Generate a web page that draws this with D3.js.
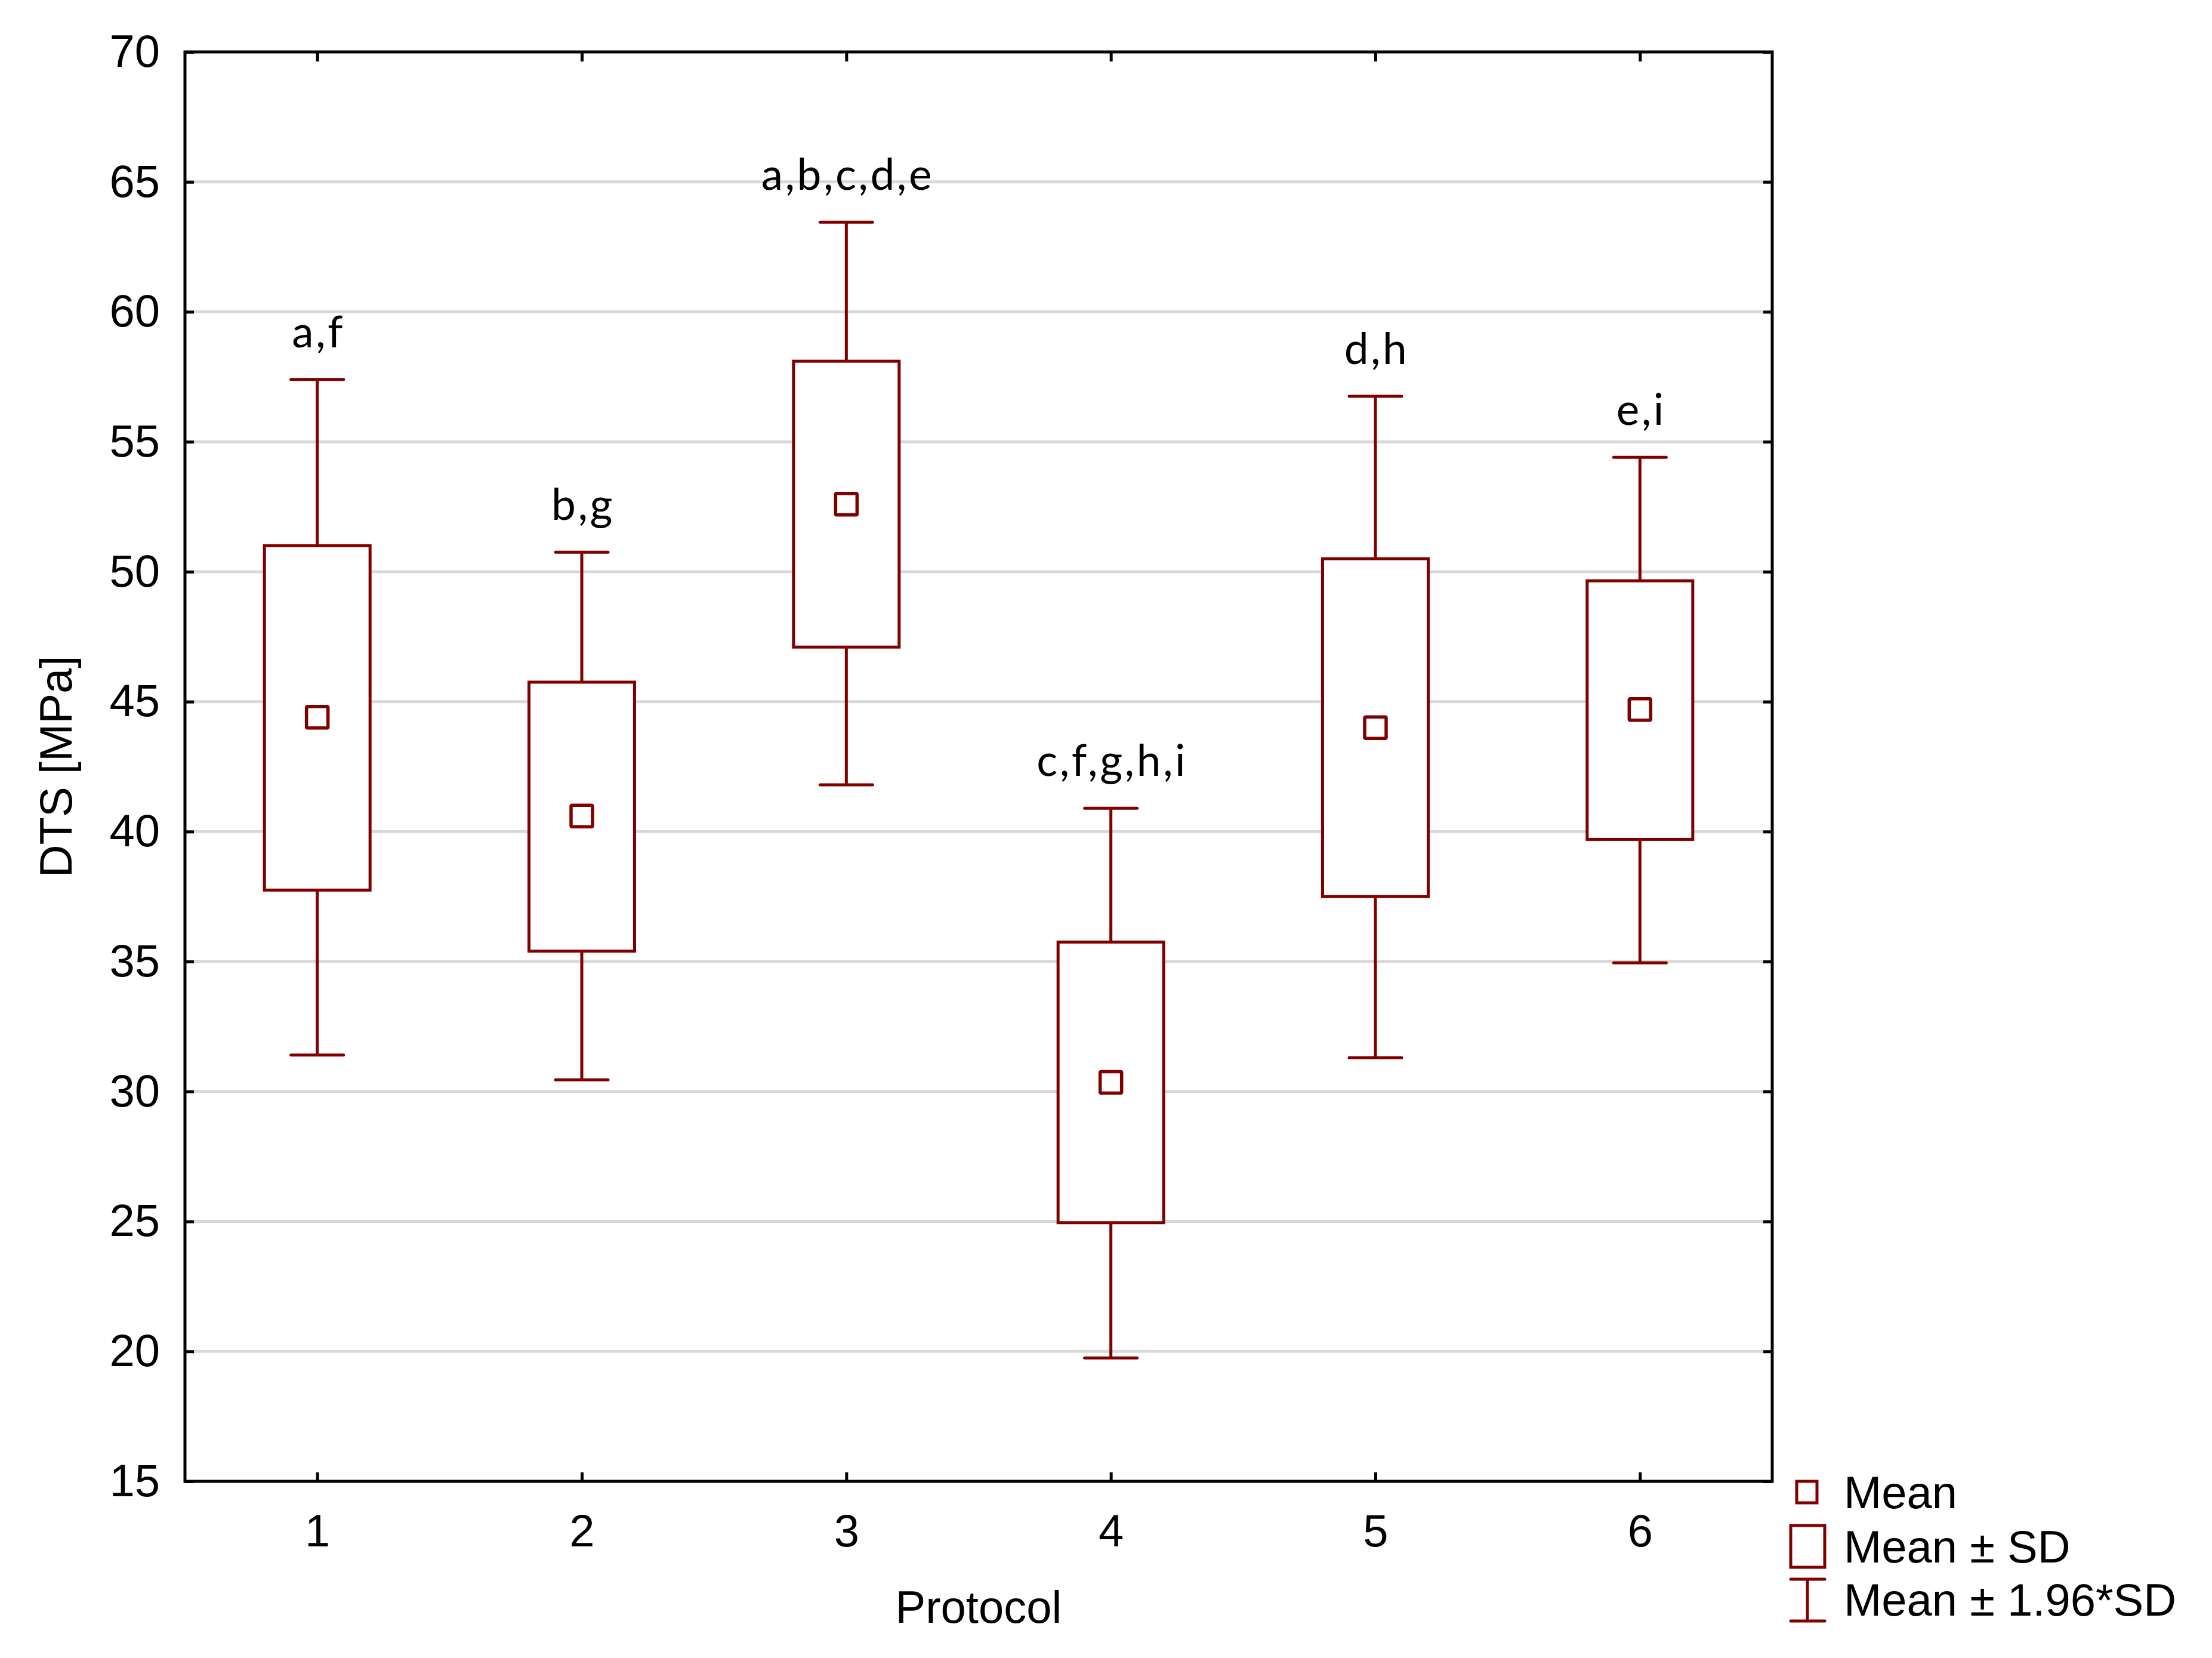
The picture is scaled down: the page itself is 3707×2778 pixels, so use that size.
<!DOCTYPE html>
<html>
<head>
<meta charset="utf-8">
<script src="https://cdn.jsdelivr.net/npm/d3@7"></script>
<style>
  body { margin: 0; background: #fff; }
  text { font-family: "Liberation Sans", Arial, sans-serif; fill: #000; }
  .sig { font-family: Lato, "Open Sans", sans-serif; }
</style>
</head>
<body>
<div id="chart"></div>
<script>
// values
let protocols = ["1", "2", "3", "4", "5", "6"];
let means   = [44.4, 40.6, 52.6, 30.35, 44.0, 44.7];
let sdLow   = [37.75, 35.4, 47.1, 24.95, 37.5, 39.7];
let sdHigh  = [51.0, 45.75, 58.1, 35.75, 50.5, 49.65];
let ciLow   = [31.4, 30.45, 41.8, 19.75, 31.3, 34.95];
let ciHigh  = [57.4, 50.75, 63.45, 40.9, 56.75, 54.4];
let sigLabels = ["a,f", "b,g", "a,b,c,d,e", "c,f,g,h,i", "d,h", "e,i"];
let yTicks = [15, 20, 25, 30, 35, 40, 45, 50, 55, 60, 65, 70];
let legendLabels = ["Mean", "Mean \u00b1 SD", "Mean \u00b1 1.96*SD"];

let margin = {top: 87, right: 737, left: 310, bottom: 296};
let width = 3707 - margin.left - margin.right;
let height = 2778 - margin.top - margin.bottom;
let red = "#800000";

let svg = d3.select("#chart")
    .append("svg")
    .attr("width", 3707)
    .attr("height", 2778);

let chart = svg.append("g")
    .attr("transform", "translate(" + margin.left + ", " + margin.top + ")");

let xScale = d3.scalePoint().domain(protocols).range([0, width]).padding(0.5);
let yScale = d3.scaleLinear().domain([15, 70]).range([height, 0]);

let data = protocols.map((p, i) => ({
    p: p, mean: means[i], lo: sdLow[i], hi: sdHigh[i],
    wlo: ciLow[i], whi: ciHigh[i], label: sigLabels[i]
}));

// grid
chart.append("g")
    .selectAll("line")
    .data(yTicks.filter(d => d > 15 && d < 70))
    .enter()
    .append("line")
    .attr("x1", 0)
    .attr("x2", width)
    .attr("y1", d => yScale(d))
    .attr("y2", d => yScale(d))
    .attr("stroke", "#d9d9d9")
    .attr("stroke-width", 5);

// axes (ticks point inward)
let fontSize = 76;
let axLeft = chart.append("g")
    .call(d3.axisLeft(yScale).tickValues(yTicks).tickSizeInner(-15).tickSizeOuter(0).tickPadding(42));
let axBottom = chart.append("g")
    .attr("transform", "translate(0," + height + ")")
    .call(d3.axisBottom(xScale).tickSizeInner(-15).tickSizeOuter(0).tickPadding(55));
let axTop = chart.append("g")
    .call(d3.axisTop(xScale).tickSizeInner(-16).tickSizeOuter(0).tickFormat(""));
let axRight = chart.append("g")
    .attr("transform", "translate(" + width + ",0)")
    .call(d3.axisRight(yScale).tickValues(yTicks).tickSizeInner(-15).tickSizeOuter(0).tickFormat(""));

[axLeft, axBottom, axTop, axRight].forEach(g => {
    g.select(".domain").remove();
    g.selectAll(".tick line").attr("stroke", "#000").attr("stroke-width", 5);
    g.selectAll(".tick text")
        .attr("font-size", fontSize)
        .attr("font-family", "Liberation Sans, Arial, sans-serif")
        .attr("fill", "#000");
});

// frame
chart.append("rect")
    .attr("x", 0)
    .attr("y", 0)
    .attr("width", width)
    .attr("height", height)
    .attr("fill", "none")
    .attr("stroke", "#000")
    .attr("stroke-width", 5);

// whiskers
let boxW = 177, capW = 88, markS = 36;
let groups = chart.selectAll(".grp")
    .data(data)
    .enter()
    .append("g")
    .attr("class", "grp");

groups.append("line")
    .attr("x1", d => xScale(d.p))
    .attr("x2", d => xScale(d.p))
    .attr("y1", d => yScale(d.whi))
    .attr("y2", d => yScale(d.wlo))
    .attr("stroke", red)
    .attr("stroke-width", 5);

groups.selectAll(".cap")
    .data(d => [{x: xScale(d.p), v: d.whi}, {x: xScale(d.p), v: d.wlo}])
    .enter()
    .append("line")
    .attr("x1", c => c.x - capW / 2)
    .attr("x2", c => c.x + capW / 2)
    .attr("y1", c => yScale(c.v))
    .attr("y2", c => yScale(c.v))
    .attr("stroke", red)
    .attr("stroke-width", 5)
    .attr("stroke-linecap", "round");

groups.append("rect")
    .attr("x", d => xScale(d.p) - boxW / 2)
    .attr("y", d => yScale(d.hi))
    .attr("width", boxW)
    .attr("height", d => yScale(d.lo) - yScale(d.hi))
    .attr("fill", "#fff")
    .attr("stroke", red)
    .attr("stroke-width", 5);

groups.append("rect")
    .attr("x", d => xScale(d.p) - markS / 2)
    .attr("y", d => yScale(d.mean) - markS / 2)
    .attr("width", markS)
    .attr("height", markS)
    .attr("rx", 1.5)
    .attr("fill", "#fff")
    .attr("stroke", red)
    .attr("stroke-width", 5.5);

groups.append("text")
    .attr("class", "sig")
    .attr("x", d => xScale(d.p) + 2)
    .attr("y", d => yScale(d.whi) - 54)
    .attr("text-anchor", "middle")
    .attr("font-size", 73)
    .attr("letter-spacing", 3.5)
    .text(d => d.label);

// axis titles
svg.append("text")
    .attr("x", margin.left + width / 2)
    .attr("y", 2719)
    .attr("text-anchor", "middle")
    .attr("font-size", fontSize)
    .text("Protocol");

svg.append("text")
    .attr("transform", "translate(120," + (margin.top + height / 2) + ") rotate(-90)")
    .attr("text-anchor", "middle")
    .attr("font-size", fontSize)
    .text("DTS [MPa]");

// legend
let legend = svg.append("g");
legend.append("rect")
    .attr("x", 3011).attr("y", 2482)
    .attr("width", 34).attr("height", 36)
    .attr("fill", "#fff").attr("stroke", red).attr("stroke-width", 5);
legend.append("rect")
    .attr("x", 3001).attr("y", 2556)
    .attr("width", 57).attr("height", 70)
    .attr("fill", "#fff").attr("stroke", red).attr("stroke-width", 5);
legend.append("line")
    .attr("x1", 3029).attr("x2", 3029).attr("y1", 2646).attr("y2", 2716)
    .attr("stroke", red).attr("stroke-width", 5);
[2646, 2716].forEach(yy => {
    legend.append("line")
        .attr("x1", 3001).attr("x2", 3058).attr("y1", yy).attr("y2", yy)
        .attr("stroke", red).attr("stroke-width", 5).attr("stroke-linecap", "round");
});
legend.selectAll(".lt")
    .data(legendLabels)
    .enter()
    .append("text")
    .attr("x", 3090)
    .attr("y", (d, i) => [2527, 2618, 2707][i])
    .attr("font-size", fontSize)
    .text(d => d);
</script>
</body>
</html>
